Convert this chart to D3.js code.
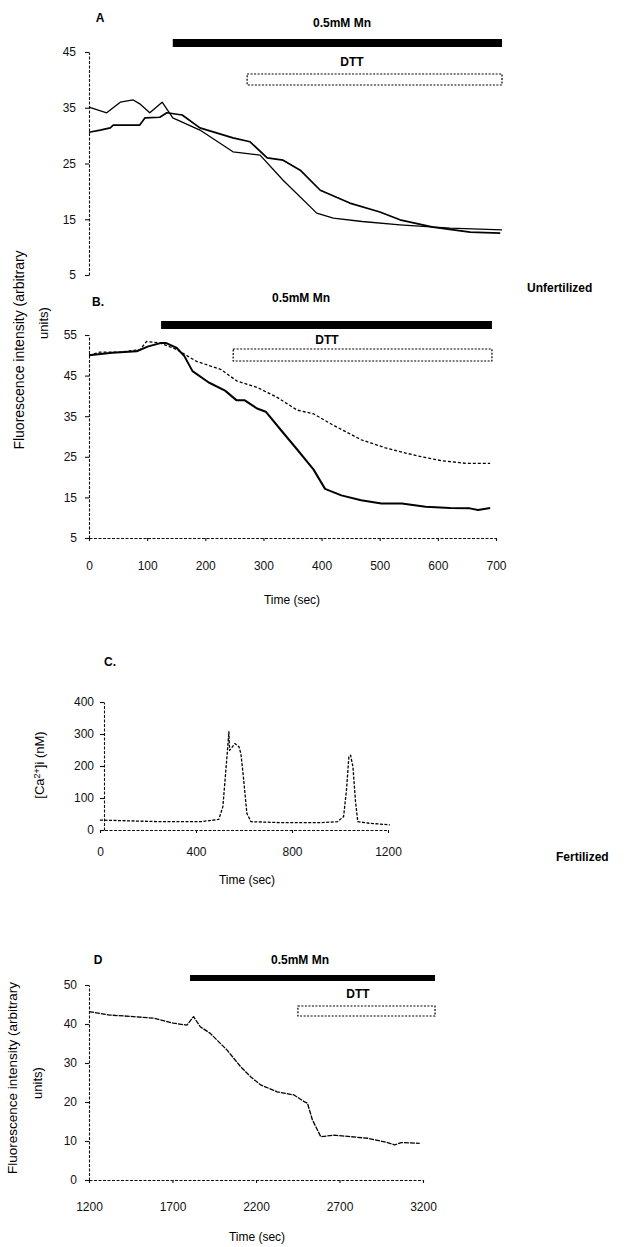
<!DOCTYPE html>
<html>
<head>
<meta charset="utf-8">
<script src="https://cdn.jsdelivr.net/npm/d3@7"></script>
<style>
body { margin: 0; background: #fff; }
svg { font-family: "Liberation Sans", Arial, sans-serif; }
.axis path, .axis line { stroke: #111; stroke-width: 1.1; }
.axis path { stroke-dasharray: 3, 1.5; }
.axis text { font-size: 12px; fill: #111; }
</style>
</head>
<body>
<div id="chart"></div>
<script>
// panel A - unfertilized, two eggs
var aTimeFast = [0, 30, 53, 75, 86, 103, 124, 142, 188, 244, 290, 329, 386, 414, 463, 527, 612, 700];
var aValFast = [35.1, 34.1, 36.0, 36.4, 35.7, 34.1, 36.0, 33.2, 31.0, 27.1, 26.5, 22.0, 16.1, 15.2, 14.6, 14.0, 13.4, 13.1];
var aTimeSlow = [0, 19, 36, 41, 86, 95, 120, 132, 158, 188, 244, 273, 302, 329, 358, 392, 442, 493, 527, 583, 646, 697];
var aValSlow = [30.6, 31.0, 31.4, 31.9, 31.9, 33.2, 33.3, 34.1, 33.7, 31.4, 29.6, 28.9, 26.0, 25.6, 23.8, 20.2, 17.9, 16.3, 14.9, 13.6, 12.7, 12.5];
var aTicks = [5, 15, 25, 35, 45];
var aMn = [142, 700], aDtt = [268, 700];

// panel B - unfertilized
var bTimeFast = [0, 40, 82, 102, 123, 133, 151, 164, 178, 206, 234, 254, 268, 289, 304, 330, 358, 386, 406, 434, 468, 503, 538, 579, 621, 655, 669, 690];
var bValFast = [50.0, 50.6, 51.0, 52.2, 53.0, 53.0, 51.8, 49.8, 46.1, 43.3, 41.3, 38.9, 38.9, 36.9, 36.1, 31.6, 26.8, 21.9, 17.1, 15.5, 14.3, 13.5, 13.5, 12.7, 12.4, 12.3, 11.9, 12.4];
var bTimeSlow = [0, 19, 54, 88, 99, 123, 151, 185, 227, 254, 289, 323, 358, 386, 420, 468, 510, 565, 608, 648, 690];
var bValSlow = [50.0, 50.8, 50.8, 51.4, 53.4, 53.0, 51.4, 48.5, 46.5, 43.7, 42.1, 39.7, 36.5, 35.6, 32.8, 29.2, 27.2, 25.2, 24.0, 23.4, 23.4];
var bTicks = [5, 15, 25, 35, 45, 55];
var bTimeTicks = [0, 100, 200, 300, 400, 500, 600, 700];
var bMn = [124, 693], bDtt = [248, 693];

// panel C - calcium, fertilized
var cTime = [0, 252, 420, 495, 512, 529, 537, 540, 562, 579, 587, 596, 612, 629, 755, 923, 990, 1015, 1027, 1037, 1044, 1054, 1064, 1074, 1124, 1208];
var cVal = [31, 26, 26, 33, 73, 229, 307, 249, 270, 260, 239, 177, 52, 26, 23, 23, 26, 42, 125, 229, 234, 197, 94, 26, 21, 16];
var cTicks = [0, 100, 200, 300, 400];
var cTimeTicks = [0, 400, 800, 1200];

// panel D - fertilized
var dTime = [1200, 1324, 1465, 1585, 1706, 1786, 1826, 1866, 1926, 2027, 2107, 2167, 2227, 2327, 2428, 2488, 2508, 2538, 2588, 2668, 2769, 2869, 2969, 3030, 3070, 3180];
var dVal = [43.2, 42.3, 41.9, 41.5, 40.2, 39.7, 41.9, 39.3, 37.6, 33.3, 29.1, 26.5, 24.4, 22.6, 21.8, 20.1, 19.7, 15.4, 11.1, 11.5, 11.1, 10.7, 9.8, 9.0, 9.6, 9.4];
var dTicks = [0, 10, 20, 30, 40, 50];
var dTimeTicks = [1200, 1700, 2200, 2700, 3200];
var dMn = [1805, 3272], dDtt = [2451, 3272];

var svg = d3.select("#chart").append("svg")
    .attr("width", 629)
    .attr("height", 1247);

var fmt = d3.format("d");

function zip(t, v) {
    return t.map(function (d, i) { return [d, v[i]]; });
}

function trace(x, y, t, v, width, dash) {
    var line = d3.line()
        .x(function (d) { return x(d[0]); })
        .y(function (d) { return y(d[1]); });
    svg.append("path")
        .datum(zip(t, v))
        .attr("d", line)
        .attr("fill", "none")
        .attr("stroke", "#000")
        .attr("stroke-width", width)
        .attr("stroke-linejoin", "round")
        .attr("stroke-dasharray", dash);
}

function yAxis(y, left, ticks, pad) {
    svg.append("g")
        .attr("class", "axis")
        .attr("transform", "translate(" + left + ",0)")
        .call(d3.axisLeft(y).tickValues(ticks).tickFormat(fmt).tickSize(4).tickSizeOuter(0).tickPadding(pad));
}

function xAxis(x, base, ticks, pad) {
    svg.append("g")
        .attr("class", "axis")
        .attr("transform", "translate(0," + base + ")")
        .call(d3.axisBottom(x).tickValues(ticks).tickFormat(fmt).tickSize(3).tickSizeOuter(0).tickPadding(pad));
}

function text(str, x, y, size, weight, anchor) {
    return svg.append("text")
        .attr("x", x)
        .attr("y", y)
        .attr("font-size", size)
        .attr("font-weight", weight || "normal")
        .attr("text-anchor", anchor || "start")
        .text(str);
}

function vtext(str, x, y, size) {
    return svg.append("text")
        .attr("transform", "translate(" + x + "," + y + ") rotate(-90)")
        .attr("font-size", size)
        .attr("text-anchor", "middle")
        .text(str);
}

// Mn bar + DTT dotted box above each trace
function treatment(x, mn, dtt, barY, barH, mnTextX, mnTextY, dttTextX, dttTextY, boxY, boxH) {
    svg.append("rect")
        .attr("x", x(mn[0]))
        .attr("y", barY)
        .attr("width", x(mn[1]) - x(mn[0]))
        .attr("height", barH)
        .style("fill", "#000");
    text("0.5mM Mn", mnTextX, mnTextY, 12, "bold", "middle");
    text("DTT", dttTextX, dttTextY, 12, "bold", "middle");
    svg.append("rect")
        .attr("x", x(dtt[0]))
        .attr("y", boxY)
        .attr("width", x(dtt[1]) - x(dtt[0]))
        .attr("height", boxH)
        .attr("fill", "#fff")
        .attr("stroke", "#000")
        .attr("stroke-width", 1.2)
        .attr("stroke-dasharray", "2,1.5");
}

// A
var xA = d3.scaleLinear().domain([0, 700]).range([89, 502]);
var yA = d3.scaleLinear().domain([5, 45]).range([275, 52]);
yAxis(yA, 89, aTicks, 9);
trace(xA, yA, aTimeFast, aValFast, 1.3, null);
trace(xA, yA, aTimeSlow, aValSlow, 1.7, null);
text("A", 100, 22, 12, "bold", "middle");
treatment(xA, aMn, aDtt, 39, 8, 342, 27, 352, 66, 74, 11);

// B
var xB = d3.scaleLinear().domain([0, 700]).range([89, 496]);
var yB = d3.scaleLinear().domain([5, 55]).range([538, 335]);
yAxis(yB, 89, bTicks, 8);
xAxis(xB, 538, bTimeTicks, 20);
trace(xB, yB, bTimeSlow, bValSlow, 1.3, "3,2");
trace(xB, yB, bTimeFast, bValFast, 2, null);
text("B.", 98, 306, 12, "bold", "middle");
treatment(xB, bMn, bDtt, 321, 8, 301, 302, 327, 344, 349, 12);
text("Time (sec)", 292, 604, 12, "normal", "middle");

vtext("Fluorescence intensity (arbitrary", 24, 350, 14);
vtext("units)", 48, 323, 13);
text("Unfertilized", 527, 292, 12, "bold");

// C
var xC = d3.scaleLinear().domain([0, 1200]).range([100, 388]);
var yC = d3.scaleLinear().domain([0, 400]).range([830, 702]);
yAxis(yC, 104, cTicks, 6);
xAxis(xC, 830, cTimeTicks, 14);
trace(xC, yC, cTime, cVal, 1.3, "3,1.5");
text("C.", 110, 666, 12, "bold", "middle");
text("Time (sec)", 247, 884, 12, "normal", "middle");
var ca = vtext("", 44, 765, 13);
ca.append("tspan").text("[Ca");
ca.append("tspan").attr("font-size", 9).attr("dy", -4).text("2+");
ca.append("tspan").attr("dy", 4).text("]i (nM)");
text("Fertilized", 556, 861, 12, "bold");

// D
var xD = d3.scaleLinear().domain([1200, 3200]).range([89, 423]);
var yD = d3.scaleLinear().domain([0, 50]).range([1180, 985]);
yAxis(yD, 89, dTicks, 8);
xAxis(xD, 1180, dTimeTicks, 19);
trace(xD, yD, dTime, dVal, 1.3, "5,1");
text("D", 98, 964, 12, "bold", "middle");
treatment(xD, dMn, dDtt, 975, 6, 300, 964, 358, 998, 1006, 10);
text("Time (sec)", 257, 1241, 12, "normal", "middle");

vtext("Fluorescence intensity (arbitrary", 17, 1078, 13.5);
vtext("units)", 42, 1083, 13);
</script>
</body>
</html>
